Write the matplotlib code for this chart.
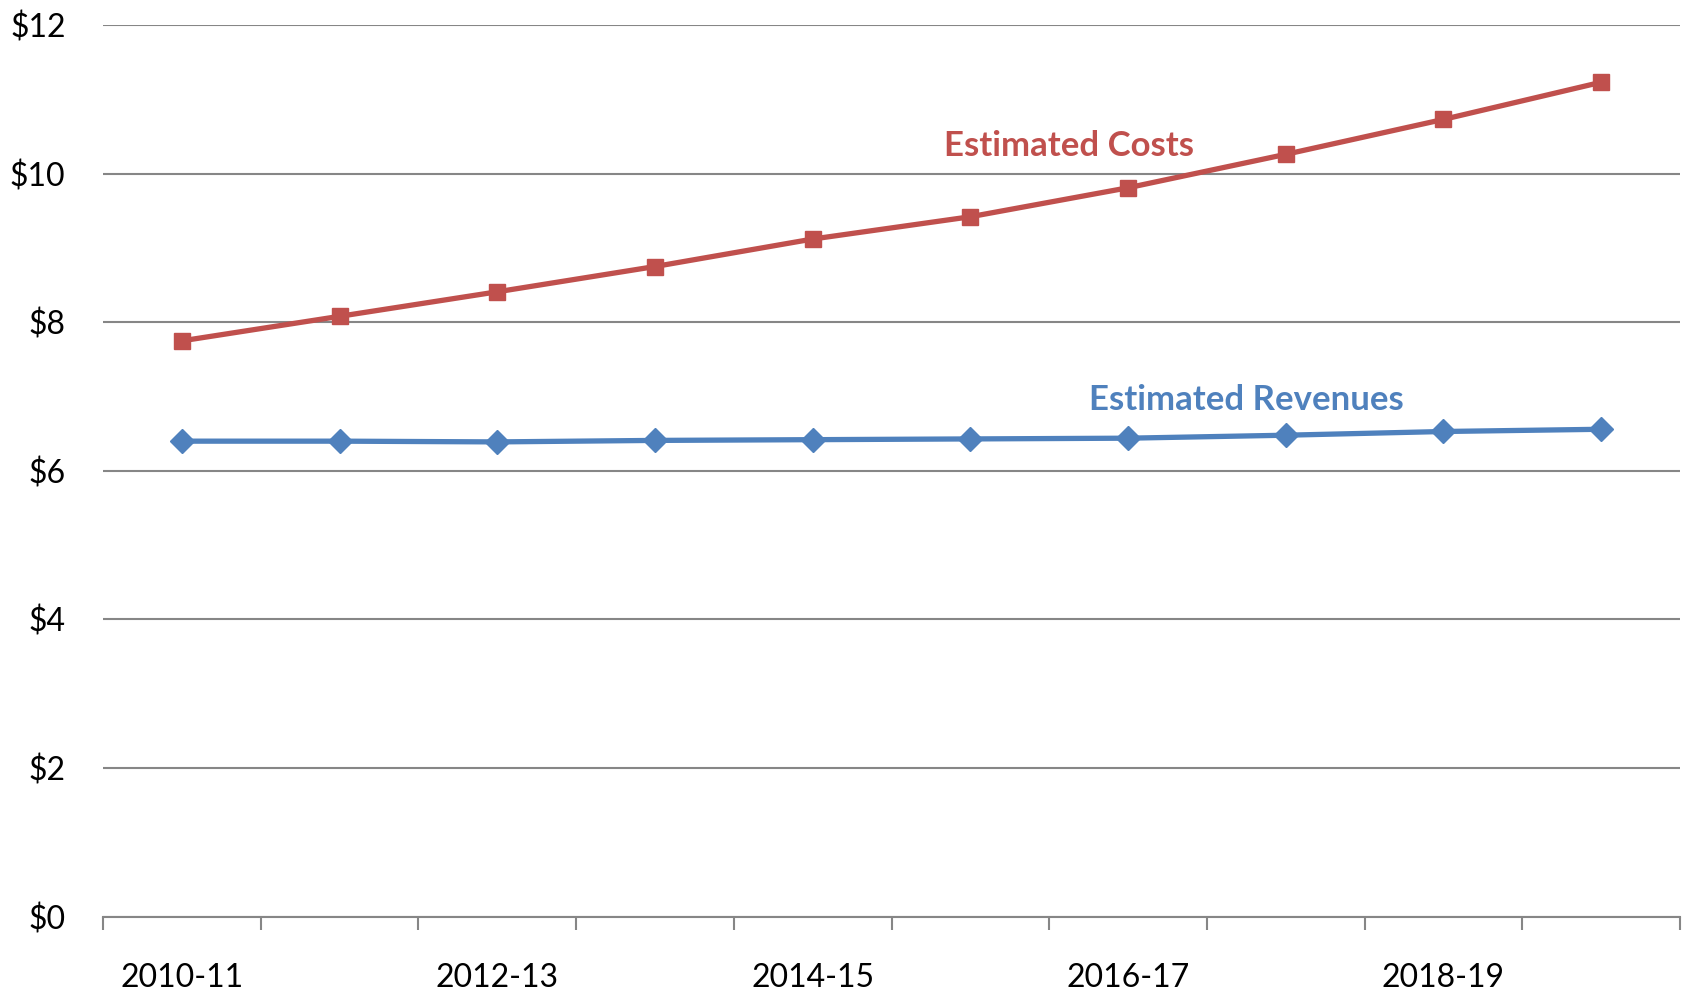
import numpy as np
import matplotlib.pyplot as plt

# Fiscal years and estimated amounts (billions of dollars)
years = ["2010-11", "2011-12", "2012-13", "2013-14", "2014-15",
         "2015-16", "2016-17", "2017-18", "2018-19", "2019-20"]
costs = [7.75, 8.08, 8.41, 8.75, 9.12, 9.42, 9.81, 10.26, 10.73, 11.23]
revenues = [6.40, 6.40, 6.39, 6.41, 6.42, 6.43, 6.44, 6.48, 6.53, 6.56]
yticks = [0, 2, 4, 6, 8, 10, 12]

red = "#C0504D"
blue = "#4F81BD"
grid = "#868686"

plt.rcParams["font.family"] = ["Lato", "DejaVu Sans"]

fig = plt.figure(figsize=(16.89, 9.93), dpi=100)
ax = fig.add_axes([0.061, 0.0768, 0.9337, 0.898])

x = np.arange(len(years))
ax.plot(x, costs, color=red, lw=3.8, marker="s", ms=11, zorder=3)
ax.plot(x, revenues, color=blue, lw=3.8, marker="D", ms=12, zorder=3)

ax.set_xlim(-0.5, len(years) - 0.5)
ax.set_ylim(0, 12)

# gridlines
ax.set_yticks(yticks)
ax.set_yticklabels([f"${v}" for v in yticks])
ax.yaxis.grid(True, color=grid, lw=1.5)
ax.set_axisbelow(True)
ax.tick_params(axis="y", length=0, pad=27, labelsize=23)

# category boundaries get tick marks, every other year gets a label
ax.set_xticks(np.arange(-0.5, len(years), 1.0))
ax.set_xticklabels([])
ax.tick_params(axis="x", which="major", length=9, width=1.5, color=grid)
ax.set_xticks(x[::2], minor=True)
ax.set_xticklabels(years[::2], minor=True)
ax.tick_params(axis="x", which="minor", length=0, pad=33, labelsize=23)

for s in ["top", "right", "left"]:
    ax.spines[s].set_visible(False)
ax.spines["bottom"].set_color(grid)
ax.spines["bottom"].set_linewidth(1.5)

ax.text(5.625, 10.37, "Estimated Costs", color=red, fontsize=25,
        fontweight="bold", ha="center", va="center")
ax.text(6.75, 6.95, "Estimated Revenues", color=blue, fontsize=25,
        fontweight="bold", ha="center", va="center")

fig.savefig("out.png", dpi=100)
